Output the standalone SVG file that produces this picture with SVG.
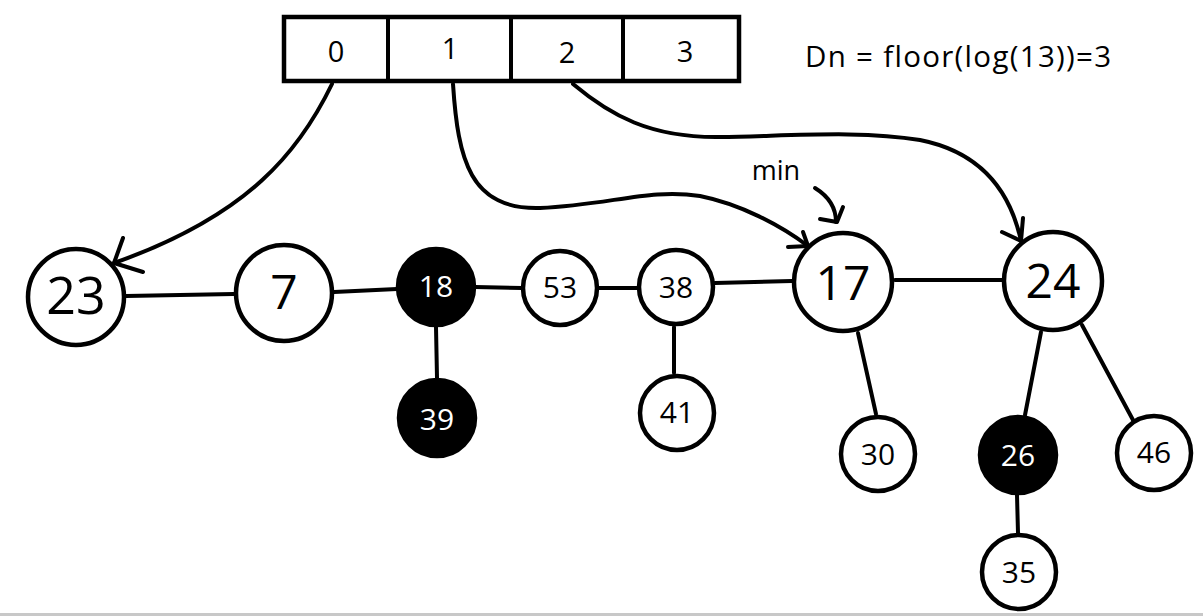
<svg xmlns="http://www.w3.org/2000/svg" width="1203" height="616" viewBox="0 0 1203 616">
<style>
  .n circle { fill: #fff; stroke: #000; stroke-width: 4.5; }
  .b circle { fill: #000; stroke: #000; stroke-width: 4.5; }
  text { font-family: "Open Sans", "Noto Sans", sans-serif; text-anchor: middle; fill: #000; }
  .b text { fill: #fff; }
  .big { font-size: 48px; }
  .sm { font-size: 30px; }
  .edge { stroke: #000; stroke-width: 4; fill: none; stroke-linecap: round; }
  .arr { stroke: #000; stroke-width: 4; fill: none; stroke-linecap: round; stroke-linejoin: round; }
  .cell { fill: #fff; stroke: #000; stroke-width: 4.5; }
  .idx { font-size: 29px; }
</style>
<rect x="0" y="0" width="1203" height="616" fill="#fff"/>
<rect x="0" y="613" width="1203" height="3" fill="#c8c8c8"/>

<g id="array">
  <rect class="cell" x="284" y="17" width="455" height="64"/>
  <line x1="388" y1="17" x2="388" y2="81" stroke="#000" stroke-width="4"/>
  <line x1="511" y1="17" x2="511" y2="81" stroke="#000" stroke-width="4"/>
  <line x1="623" y1="17" x2="623" y2="81" stroke="#000" stroke-width="4"/>
  <text class="idx" x="336" y="62">0</text>
  <text class="idx" x="450" y="59">1</text>
  <text class="idx" x="567" y="63">2</text>
  <text class="idx" x="685" y="62">3</text>
</g>

<text id="dn" x="805" y="67" style="font-size:29.5px;letter-spacing:1.3px;text-anchor:start">Dn = floor(log(13))=3</text>
<text id="min" x="776" y="180" style="font-size:27px">min</text>

<g id="connectors">
  <line class="edge" x1="126" y1="296" x2="234" y2="294"/>
  <line class="edge" x1="334" y1="292" x2="397" y2="289"/>
  <line class="edge" x1="475" y1="287" x2="522" y2="288"/>
  <line class="edge" x1="598" y1="288" x2="637" y2="288"/>
  <line class="edge" x1="715" y1="283" x2="792" y2="281"/>
  <line class="edge" x1="895" y1="280" x2="1003" y2="280"/>
  <line class="edge" x1="436" y1="327" x2="437" y2="378"/>
  <line class="edge" x1="674" y1="327" x2="674" y2="373"/>
  <line class="edge" x1="858" y1="333" x2="876" y2="414"/>
  <line class="edge" x1="1041" y1="332" x2="1025" y2="415"/>
  <line class="edge" x1="1082" y1="325" x2="1133" y2="420"/>
  <line class="edge" x1="1017" y1="495" x2="1018" y2="533"/>

  <path class="arr" d="M332,84 C300,150 250,215 114,263"/>
  <path class="arr" d="M123,238 L114,263 L143,272"/>

  <path class="arr" d="M453,84 C458,160 470,210 540,208 C610,205 650,188 700,196 C740,204 780,225 808,246"/>
  <path class="arr" d="M803,232 L808,246 L788,247"/>

  <path class="arr" d="M573,84 C610,115 650,138 720,137 C790,136 860,130 920,140 C980,152 1010,190 1021,241"/>
  <path class="arr" d="M1023,218 L1021,241 L1002,232"/>

  <path class="arr" d="M815,188 C828,196 836,207 836,222"/>
  <path class="arr" d="M843,207 L837,222 L820,219"/>
</g>

<g id="n23" class="n"><circle cx="76" cy="297" r="48"/><text class="big" x="76" y="314" style="font-size:52px">23</text></g>
<g id="n7" class="n"><circle cx="284" cy="293" r="48"/><text class="big" x="284" y="309">7</text></g>
<g id="n18" class="b"><circle cx="436" cy="287" r="38"/><text class="sm" x="436" y="297">18</text></g>
<g id="n53" class="n"><circle cx="560" cy="288" r="37"/><text class="sm" x="560" y="298">53</text></g>
<g id="n38" class="n"><circle cx="676" cy="287" r="37"/><text class="sm" x="676" y="298">38</text></g>
<g id="n17" class="n"><circle cx="843" cy="282" r="49"/><text class="big" x="843" y="300">17</text></g>
<g id="n24" class="n"><circle cx="1053" cy="281" r="49"/><text class="big" x="1053" y="298">24</text></g>
<g id="n39" class="b"><circle cx="437" cy="418" r="38"/><text class="sm" x="437" y="430">39</text></g>
<g id="n41" class="n"><circle cx="677" cy="413" r="37"/><text class="sm" x="677" y="423">41</text></g>
<g id="n30" class="n"><circle cx="878" cy="454" r="37"/><text class="sm" x="878" y="465">30</text></g>
<g id="n26" class="b"><circle cx="1018" cy="455" r="38"/><text class="sm" x="1018" y="466">26</text></g>
<g id="n46" class="n"><circle cx="1154" cy="453" r="37"/><text class="sm" x="1154" y="463">46</text></g>
<g id="n35" class="n"><circle cx="1019" cy="572" r="37"/><text class="sm" x="1019" y="583">35</text></g>
</svg>
